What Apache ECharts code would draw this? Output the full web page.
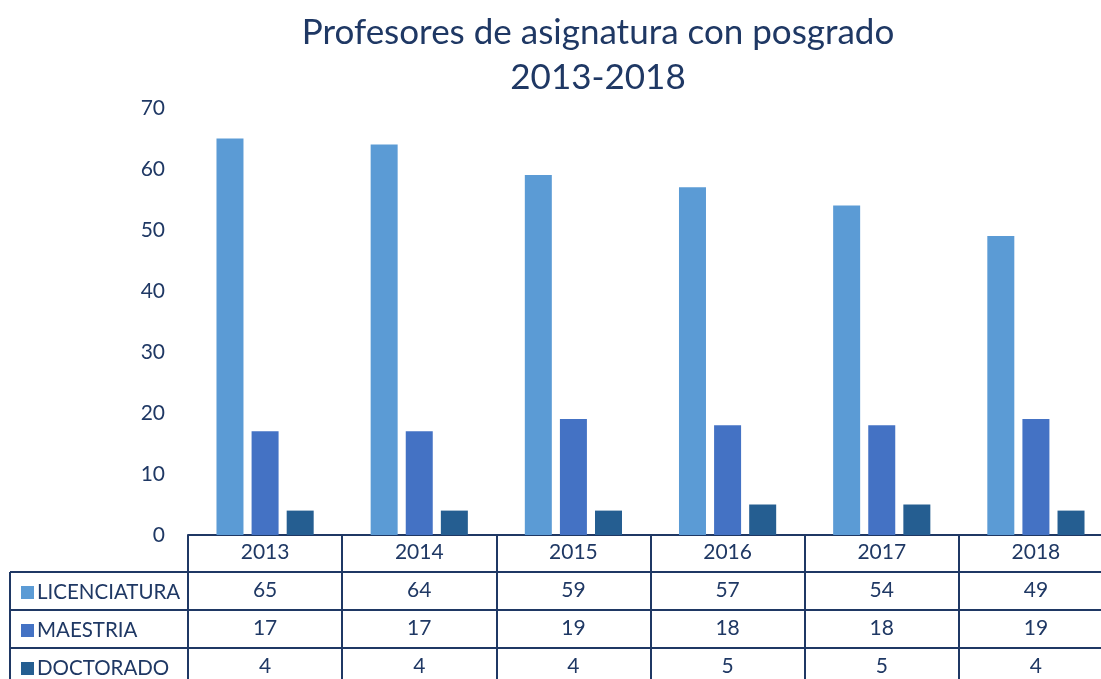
<!DOCTYPE html>
<html><head><meta charset="utf-8">
<script src="https://cdn.jsdelivr.net/npm/echarts@6/dist/echarts.min.js"></script>
<style>html,body{margin:0;padding:0;background:#fff}#c{width:1101px;height:679px}</style>
</head><body><div id="c"></div>
<script>
const years = ['2013','2014','2015','2016','2017','2018'];
const seriesNames = ['LICENCIATURA','MAESTRIA','DOCTORADO'];
const licenciatura = [65,64,59,57,54,49];
const maestria = [17,17,19,18,18,19];
const doctorado = [4,4,4,5,5,4];
const yTicks = [0,10,20,30,40,50,60,70];

const colors = ['#5B9BD5','#4472C4','#255E91'];
const navy = '#1F3864';
const font = 'Lato';
const values = [licenciatura, maestria, doctorado];

const gridLeft = 188, gridTop = 108, gridBottomY = 535, gridWidth = 925;
const rowOffsets = [37, 75, 113];
const rowHeights = [38, 38, 38];

const xAxes = [{
  type: 'category', data: years, gridIndex: 0, position: 'bottom',
  axisLine: {show: true, lineStyle: {color: navy, width: 2}},
  axisTick: {show: true, length: 37, lineStyle: {color: navy, width: 2}},
  axisLabel: {color: navy, fontSize: 21, fontFamily: font, margin: 7}
}];
values.forEach((arr, i) => {
  xAxes.push({
    type: 'category', data: arr.map(String), gridIndex: 0, position: 'bottom', offset: rowOffsets[i],
    axisLine: {show: true, lineStyle: {color: navy, width: 2}},
    axisTick: {show: true, length: rowHeights[i], lineStyle: {color: navy, width: 2}},
    axisLabel: {color: navy, fontSize: 21, fontFamily: font, margin: 8}
  });
});

const legends = seriesNames.map((n, i) => ({
  data: [n], left: 16, top: gridBottomY + rowOffsets[i] + 5, orient: 'vertical',
  itemWidth: 13, itemHeight: 13, itemGap: 0, icon: 'rect',
  textStyle: {color: navy, fontSize: 20.5, fontFamily: font, padding: [0,0,0,-2]},
  selectedMode: false
}));

const graphics = [];
rowOffsets.forEach(o => {
  graphics.push({type: 'line', shape: {x1: 10, y1: gridBottomY + o, x2: gridLeft, y2: gridBottomY + o}, style: {stroke: navy, lineWidth: 2}, silent: true});
});
graphics.push({type: 'line', shape: {x1: 10, y1: gridBottomY + rowOffsets[0], x2: 10, y2: 679}, style: {stroke: navy, lineWidth: 2}, silent: true});

const chart = echarts.init(document.getElementById('c'));
chart.setOption({
  animation: false,
  backgroundColor: '#fff',
  title: {
    text: 'Profesores de asignatura con posgrado\n2013-2018',
    left: 593, top: 5, textAlign: 'center',
    textStyle: {color: navy, fontSize: 35, fontWeight: 'normal', fontFamily: font, lineHeight: 45}
  },
  legend: legends,
  grid: {left: gridLeft, top: gridTop, width: gridWidth, height: gridBottomY - gridTop, containLabel: false, outerBoundsMode: 'none'},
  xAxis: xAxes,
  yAxis: {
    type: 'value', min: yTicks[0], max: yTicks[yTicks.length-1], interval: 10,
    axisLine: {show: false}, axisTick: {show: false}, splitLine: {show: false},
    axisLabel: {color: navy, fontSize: 21, fontFamily: font, margin: 23}
  },
  series: values.map((arr, i) => ({
    name: seriesNames[i], type: 'bar', data: arr, xAxisIndex: 0,
    barWidth: 27, barGap: '30%',
    itemStyle: {color: colors[i]}
  })),
  graphic: graphics
});
</script></body></html>
